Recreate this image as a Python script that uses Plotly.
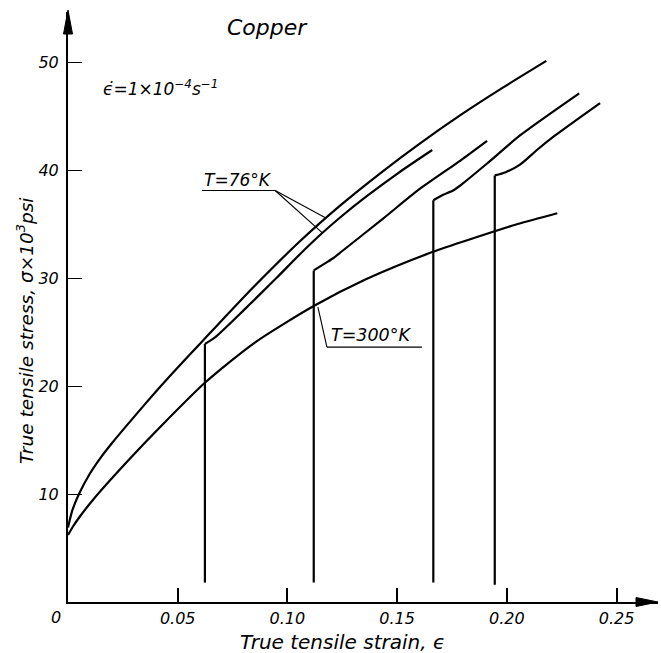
import plotly.graph_objects as go

# True stress (10^3 psi) vs true strain for copper, strain rate 1e-4 1/s

# Continuous test at 76 K
strain_76K = [0.0, 0.002, 0.005, 0.010, 0.015, 0.020, 0.027, 0.035, 0.045, 0.055,
              0.0647, 0.085, 0.1057, 0.124, 0.142, 0.160, 0.179, 0.198, 0.218]
stress_76K = [6.9, 8.5, 10.0, 11.9, 13.4, 14.7, 16.4, 18.3, 20.6, 22.8,
              24.9, 29.25, 33.4, 36.7, 39.65, 42.4, 45.1, 47.6, 50.1]

# Continuous test at 300 K
strain_300K = [0.0, 0.002, 0.005, 0.012, 0.027, 0.042, 0.0624, 0.085, 0.112, 0.136,
               0.166, 0.185, 0.205, 0.223]
stress_300K = [6.2, 6.9, 7.8, 9.6, 13.0, 16.2, 20.3, 24.0, 27.4, 29.9,
               32.4, 33.7, 35.0, 36.0]

# Prestrained at 300 K, unloaded, then reloaded at 76 K
prestrain = [0.0624, 0.112, 0.1665, 0.1945]
unloaded_stress = [1.8, 1.8, 1.8, 1.6]
reload_strain = [
    [0.0624, 0.067, 0.080, 0.095, 0.1057, 0.115, 0.124, 0.136, 0.150, 0.166],
    [0.112, 0.1175, 0.121, 0.125, 0.1436, 0.160, 0.179, 0.191],
    [0.1665, 0.171, 0.1755, 0.179, 0.191, 0.206, 0.233],
    [0.1945, 0.1995, 0.206, 0.214, 0.222, 0.2425],
]
reload_stress = [
    [23.9, 24.5, 27.0, 30.0, 32.2, 34.0, 35.6, 37.55, 39.65, 41.85],
    [30.7, 31.4, 31.85, 32.5, 35.5, 38.2, 40.9, 42.7],
    [37.2, 37.7, 38.1, 38.6, 40.6, 43.2, 47.1],
    [39.5, 39.8, 40.5, 41.9, 43.2, 46.2],
]

x_tickvals = [0.05, 0.10, 0.15, 0.20, 0.25]
x_ticktext = ["0.05", "0.10", "0.15", "0.20", "0.25"]
y_tickvals = [10, 20, 30, 40, 50]
y_ticktext = ["10", "20", "30", "40", "50"]

X_MAX = 0.2689
Y_MAX = 54.63

FONT = "DejaVu Sans"
INK = "black"
CURVE_W = 2.2

fig = go.Figure()

smooth = dict(shape="spline", smoothing=0.7, color=INK, width=CURVE_W)

fig.add_trace(go.Scatter(x=strain_76K, y=stress_76K, mode="lines", line=smooth,
                         showlegend=False, hoverinfo="skip"))
fig.add_trace(go.Scatter(x=strain_300K, y=stress_300K, mode="lines", line=smooth,
                         showlegend=False, hoverinfo="skip"))

for p, lo, rs, rsig in zip(prestrain, unloaded_stress, reload_strain, reload_stress):
    # reloading segment (vertical) followed by the 76 K flow curve
    fig.add_trace(go.Scatter(x=[p, rs[0]], y=[lo, rsig[0]], mode="lines",
                             line=dict(color=INK, width=CURVE_W),
                             showlegend=False, hoverinfo="skip"))
    fig.add_trace(go.Scatter(x=rs, y=rsig, mode="lines", line=smooth,
                             showlegend=False, hoverinfo="skip"))

# Label leaders
leader = dict(type="line", xref="x", yref="y", line=dict(color=INK, width=1.1))
shapes = [
    dict(leader, x0=0.0611, y0=38.1, x1=0.0944, y1=38.1),
    dict(leader, x0=0.0944, y0=38.1, x1=0.1171, y1=35.6),
    dict(leader, x0=0.0944, y0=38.1, x1=0.1158, y1=34.2),
    dict(leader, x0=0.1139, y0=27.3, x1=0.1180, y1=23.6),
    dict(leader, x0=0.1180, y0=23.6, x1=0.1613, y1=23.6),
]

# Arrowheads on the axes (paper coordinates, plot area is 590 x 590 px)
px = 1 / 590
shapes.append(dict(type="path", xref="paper", yref="paper",
                   path=f"M 0 {1 + 2*px} L {-4.5*px} {1 - 22*px} L {4.5*px} {1 - 22*px} Z",
                   fillcolor=INK, line=dict(color=INK, width=1)))
shapes.append(dict(type="path", xref="paper", yref="paper",
                   path=f"M {1} 0 L {1 - 22*px} {4.5*px} L {1 - 22*px} {-4.5*px} Z",
                   fillcolor=INK, line=dict(color=INK, width=1)))

it = dict(family=FONT, color=INK, style="italic")

annotations = [
    dict(x=0.0907, y=53.2, xref="x", yref="y", text="Copper", showarrow=False,
         font=dict(it, size=22), xanchor="center", yanchor="middle"),
    dict(x=0.0150, y=47.6, xref="x", yref="y",
         text="ϵ\u0307=1×10<sup>−4</sup>s<sup>−1</sup>", showarrow=False,
         font=dict(it, size=17), xanchor="left", yanchor="middle"),
    dict(x=0.0610, y=39.1, xref="x", yref="y", text="T=76°K", showarrow=False,
         font=dict(it, size=17), xanchor="left", yanchor="middle"),
    dict(x=0.1190, y=24.7, xref="x", yref="y", text="T=300°K", showarrow=False,
         font=dict(it, size=17.5), xanchor="left", yanchor="middle"),
    dict(x=-12 * px, y=-15 * px, xref="paper", yref="paper", text="0", showarrow=False,
         font=dict(it, size=16), xanchor="center", yanchor="middle"),
    dict(x=(342 - 68) * px, y=-40 * px, xref="paper", yref="paper",
         text="True tensile strain, ϵ", showarrow=False,
         font=dict(it, size=20), xanchor="center", yanchor="middle"),
    dict(x=-43 * px, y=(602 - 331) * px, xref="paper", yref="paper",
         text="True tensile stress, σ×10<sup>3</sup>psi", showarrow=False, textangle=-90,
         font=dict(it, size=18.5), xanchor="center", yanchor="middle"),
]

fig.update_layout(
    width=661, height=653,
    margin=dict(l=68, r=3, t=12, b=51),
    paper_bgcolor="white", plot_bgcolor="white",
    shapes=shapes, annotations=annotations,
    showlegend=False,
    xaxis=dict(range=[0, X_MAX], showgrid=False, zeroline=False,
               showline=True, linecolor=INK, linewidth=2,
               ticks="inside", ticklen=14, tickwidth=1.6, tickcolor=INK,
               tickvals=x_tickvals, ticktext=x_ticktext,
               tickfont=dict(it, size=16), ticklabelstandoff=1),
    yaxis=dict(range=[0, Y_MAX], showgrid=False, zeroline=False,
               showline=True, linecolor=INK, linewidth=2,
               ticks="inside", ticklen=14, tickwidth=1.4, tickcolor=INK,
               tickvals=y_tickvals, ticktext=y_ticktext,
               tickfont=dict(it, size=16), ticklabelstandoff=4),
)

fig.write_html("out.html")
